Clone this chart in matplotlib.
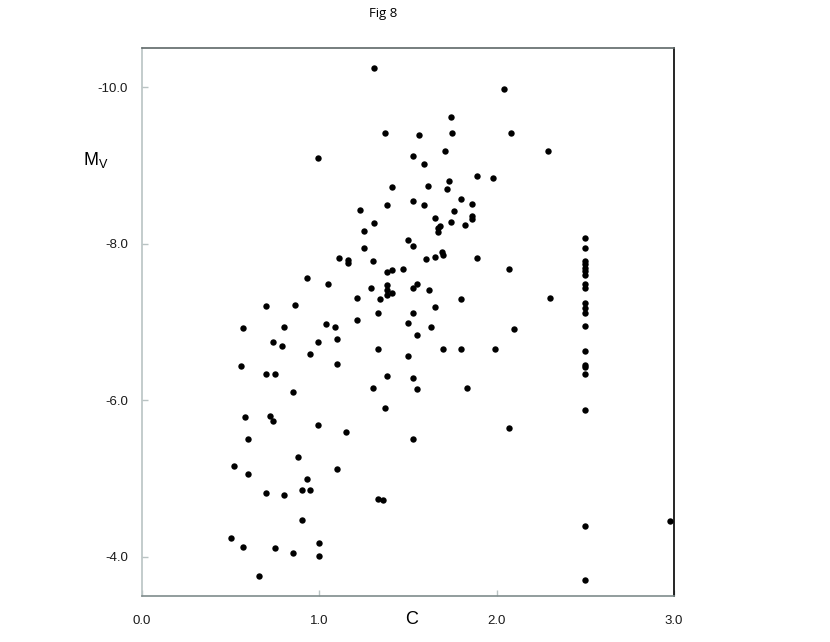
import matplotlib
matplotlib.use("Agg")
import matplotlib.pyplot as plt
from matplotlib.ticker import FormatStrFormatter

# Colour index C and absolute magnitude M_V
c_vals = [
    1.31, 2.04, 1.74, 1.37, 1.56, 1.75, 2.08, 1.71, 1.53, 1.59,
    1.89, 1.98, 1.41, 1.61, 1.73, 1.72, 1.80, 1.86, 1.86, 1.86,
    1.82, 1.38, 1.53, 1.59, 1.65, 1.76, 1.74, 1.68, 1.67, 1.67,
    1.31, 1.50, 1.53, 1.30, 1.60, 1.65, 1.69, 1.70, 1.89, 2.07,
    1.38, 1.41, 1.47, 1.29, 1.38, 1.38, 1.38, 1.41, 1.34, 1.53,
    1.55, 1.62, 1.80, 1.65, 1.33, 1.53, 1.50, 1.63, 2.10,
    0.99, 1.23, 1.25, 1.25, 1.11, 1.16, 1.16, 0.93, 1.05, 1.21,
    0.70, 0.86, 1.21, 0.57, 0.80, 1.04, 1.09,
    0.74, 0.79, 0.99, 1.10, 0.95, 0.56, 0.70, 0.75, 1.10, 0.85,
    0.58, 0.72, 0.74, 0.99, 1.15, 0.60, 0.88, 0.52, 0.60, 1.10,
    0.93, 0.70, 0.80, 0.90, 0.95, 0.90, 0.50, 0.57, 0.75, 0.85,
    1.00, 1.00, 0.66,
    1.55, 1.33, 1.50, 1.70, 1.80, 1.99, 1.38, 1.53, 1.30, 1.55,
    1.83, 1.37, 2.07, 1.53, 1.33, 1.36,
    2.29, 2.30, 2.98,
    2.50, 2.50, 2.50, 2.50, 2.50, 2.50, 2.50, 2.50, 2.50, 2.50,
    2.50, 2.50, 2.50, 2.50, 2.50, 2.50, 2.50, 2.50, 2.50, 2.50,
]
mv_vals = [
    -10.25, -9.98, -9.62, -9.42, -9.39, -9.42, -9.42, -9.18, -9.12, -9.02,
    -8.87, -8.84, -8.73, -8.74, -8.80, -8.70, -8.57, -8.51, -8.35, -8.32,
    -8.24, -8.49, -8.54, -8.50, -8.33, -8.42, -8.28, -8.23, -8.20, -8.15,
    -8.27, -8.05, -7.97, -7.78, -7.80, -7.83, -7.90, -7.85, -7.82, -7.68,
    -7.64, -7.66, -7.68, -7.44, -7.47, -7.41, -7.35, -7.37, -7.30, -7.44,
    -7.49, -7.41, -7.29, -7.19, -7.11, -7.11, -6.99, -6.94, -6.91,
    -9.09, -8.43, -8.16, -7.94, -7.82, -7.79, -7.75, -7.56, -7.49, -7.31,
    -7.20, -7.22, -7.03, -6.92, -6.94, -6.97, -6.94,
    -6.75, -6.69, -6.74, -6.78, -6.59, -6.44, -6.34, -6.34, -6.46, -6.10,
    -5.78, -5.80, -5.73, -5.68, -5.60, -5.51, -5.28, -5.16, -5.06, -5.12,
    -5.00, -4.81, -4.79, -4.86, -4.85, -4.47, -4.24, -4.13, -4.11, -4.05,
    -4.18, -4.01, -3.75,
    -6.84, -6.66, -6.56, -6.66, -6.65, -6.65, -6.31, -6.28, -6.16, -6.14,
    -6.16, -5.90, -5.65, -5.50, -4.74, -4.72,
    -9.18, -7.31, -4.46,
    -8.07, -7.95, -7.78, -7.74, -7.69, -7.65, -7.60, -7.49, -7.44, -7.24,
    -7.18, -7.12, -6.95, -6.63, -6.45, -6.42, -6.34, -5.87, -4.40, -3.71,
]

x_ticks = [0.0, 1.0, 2.0, 3.0]
y_ticks = [-10.0, -8.0, -6.0, -4.0]

plt.rcParams["font.family"] = ["Liberation Sans", "DejaVu Sans"]

fig = plt.figure(figsize=(8.30, 6.42), dpi=100)
ax = fig.add_axes([0.1711, 0.0717, 0.6410, 0.8535])

ax.plot(c_vals, mv_vals, linestyle="none", marker="o", markersize=4.6,
        color="black", markeredgewidth=0)

ax.set_xlim(0.0, 3.0)
ax.set_ylim(-3.5, -10.5)
ax.set_xticks(x_ticks)
ax.set_yticks(y_ticks)
ax.xaxis.set_major_formatter(FormatStrFormatter("%.1f"))
ax.yaxis.set_major_formatter(FormatStrFormatter("%.1f"))
ax.tick_params(axis="both", direction="in", length=4, width=1, color="#b9c3c3",
               labelsize=9.5, labelcolor="#1a1a1a")
ax.tick_params(axis="y", pad=10)
ax.tick_params(axis="x", pad=14)

ax.spines["left"].set_color("#b9c3c3")
ax.spines["bottom"].set_color("#7f8c8c")
ax.spines["top"].set_color("#5f6868")
ax.spines["right"].set_color("black")
for sp in ax.spines.values():
    sp.set_linewidth(1.2)

fig.text(383 / 830, 1 - 14 / 642, "Fig 8", ha="center", va="center",
         fontsize=9.5, family=["Open Sans", "DejaVu Sans"])
fig.text(412 / 830, 1 - 620 / 642, "C", ha="center", va="center", fontsize=13)
fig.text(96 / 830, 1 - 160 / 642, r"M$_{\mathregular{V}}$", ha="center", va="center",
         fontsize=13)

fig.savefig("out.png", dpi=100)
